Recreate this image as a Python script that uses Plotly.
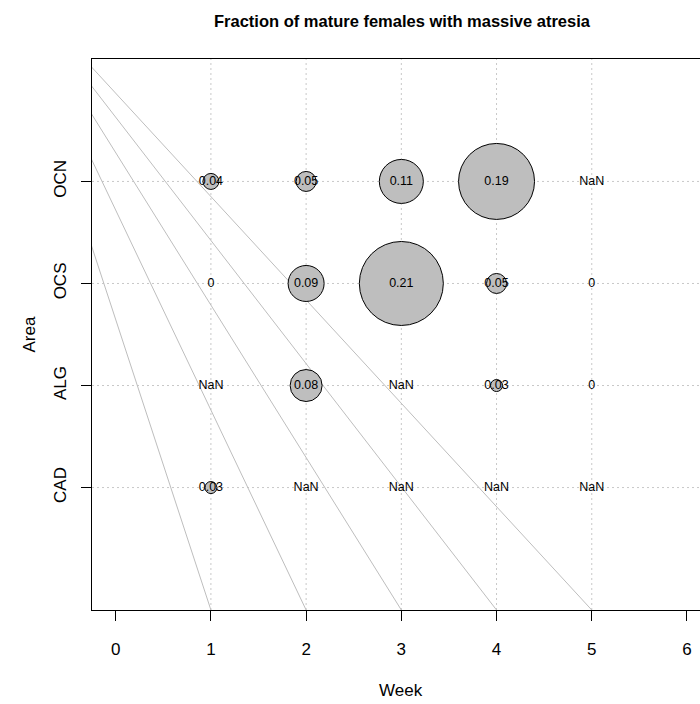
import math
import plotly.graph_objects as go

# Survey grid: weeks along x, areas along y
weeks = [1, 2, 3, 4, 5]
areas = ["CAD", "ALG", "OCS", "OCN"]
area_pos = [1, 2, 3, 4]

# Fraction of mature females with massive atresia, one row per area (NaN = no sample)
nan = float("nan")
frac = {
    "CAD": [0.03, nan, nan, nan, nan],
    "ALG": [nan, 0.08, nan, 0.03, 0.0],
    "OCS": [0.0, 0.09, 0.21, 0.05, 0.0],
    "OCN": [0.04, 0.05, 0.11, 0.19, nan],
}

# Guide lines: each runs from a common apex down to the bottom edge at a week
guide_apex = (-1.21, 6.09)
guide_ends = [1, 2, 3, 4, 5]

x_tick_vals = [0, 1, 2, 3, 4, 5, 6]
x_range = [-0.249, 6.137]
y_range = [-0.2, 5.2]

FONT = "Liberation Sans, Arial, Helvetica, sans-serif"


def label(v):
    if math.isnan(v):
        return "NaN"
    if v == 0:
        return "0"
    return f"{v:.2f}"


fig = go.Figure()

# dotted reference grid through the sampled weeks and areas
for w in weeks:
    fig.add_shape(type="line", xref="x", yref="paper", x0=w, x1=w, y0=0, y1=1,
                  line=dict(color="#c8c8c8", width=1, dash="2px,3px"), layer="below")
for a in area_pos:
    fig.add_shape(type="line", xref="paper", yref="y", x0=0, x1=1, y0=a, y1=a,
                  line=dict(color="#c8c8c8", width=1, dash="2px,3px"), layer="below")

# diagonal guide lines
for e in guide_ends:
    fig.add_trace(go.Scatter(
        x=[guide_apex[0], e], y=[guide_apex[1], y_range[0]],
        mode="lines", line=dict(color="#bebebe", width=1),
        hoverinfo="skip", showlegend=False))

# bubbles (radius proportional to the fraction)
bx, by, bv = [], [], []
tx, ty, tt = [], [], []
for a, pos in zip(areas, area_pos):
    for w, v in zip(weeks, frac[a]):
        tx.append(w)
        ty.append(pos)
        tt.append(label(v))
        if not math.isnan(v) and v > 0:
            bx.append(w)
            by.append(pos)
            bv.append(v)

fig.add_trace(go.Scatter(
    x=bx, y=by, mode="markers",
    marker=dict(size=bv, sizemode="diameter", sizeref=0.0025,
                color="#bebebe", line=dict(color="black", width=1), opacity=1),
    showlegend=False))

fig.add_trace(go.Scatter(
    x=tx, y=ty, mode="text", text=tt,
    textfont=dict(family=FONT, size=12.5, color="black"),
    textposition="middle center", showlegend=False))

fig.update_layout(
    width=700, height=704,
    margin=dict(l=92, r=0, t=59, b=94, pad=0),
    paper_bgcolor="white", plot_bgcolor="white",
    font=dict(family=FONT, color="black"),
    title=dict(text="<b>Fraction of mature females with massive atresia</b>",
               xref="container", x=402 / 700, xanchor="center",
               yref="container", y=1 - 21 / 704, yanchor="middle",
               font=dict(family=FONT, size=16.5, color="black")),
    xaxis=dict(range=x_range, tickvals=x_tick_vals, ticks="outside", ticklen=10,
               tickcolor="black", tickwidth=1, showline=True, linecolor="black",
               linewidth=1, mirror=True, showgrid=False, zeroline=False,
               tickfont=dict(family=FONT, size=17, color="black"),
               ticklabelstandoff=14, automargin=False),
    yaxis=dict(range=y_range, tickvals=area_pos, ticktext=areas, tickangle=-90,
               ticks="outside", ticklen=10, tickcolor="black", tickwidth=1,
               showline=True, linecolor="black", linewidth=1, mirror=False,
               showgrid=False, zeroline=False,
               tickfont=dict(family=FONT, size=17, color="black"),
               ticklabelstandoff=8, automargin=False),
    annotations=[
        dict(text="Week", xref="paper", yref="paper", x=(401 - 92) / 608, y=0,
             xanchor="center", yanchor="middle", yshift=-80, showarrow=False,
             font=dict(family=FONT, size=17, color="black")),
        dict(text="Area", xref="paper", yref="paper", x=0, y=0.5,
             xanchor="center", yanchor="middle", xshift=-63, textangle=-90,
             showarrow=False, font=dict(family=FONT, size=17, color="black")),
    ],
)

fig.write_html("out.html")
